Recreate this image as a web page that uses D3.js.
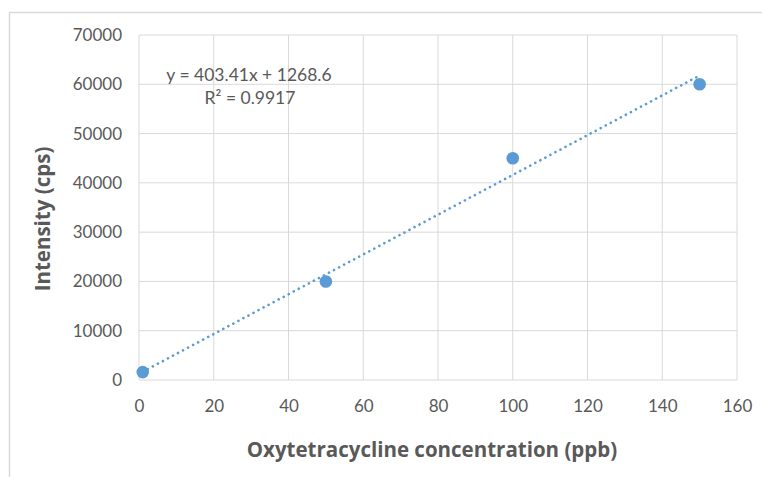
<!DOCTYPE html>
<html><head><meta charset="utf-8">
<script src="https://cdn.jsdelivr.net/npm/d3@7"></script>
<style>body{margin:0;background:#fff;} svg{display:block;}</style>
</head><body>
<svg id="c" width="762" height="477"></svg>
<script>
const xValues = [1, 50, 100, 150];
const yValues = [1600, 20000, 45000, 60000];
const xTicks = [0, 20, 40, 60, 80, 100, 120, 140, 160];
const yTicks = [0, 10000, 20000, 30000, 40000, 50000, 60000, 70000];
const trendSlope = 403.41;
const trendIntercept = 1268.6;
const equationLines = ["y = 403.41x + 1268.6", "R² = 0.9917"];
const xTitle = "Oxytetracycline concentration (ppb)";
const yTitle = "Intensity (cps)";

const svg = d3.select("#c");
const W = 762, H = 477;
const m = {left: 139, top: 35, right: 737, bottom: 380};
const font = "Lato, 'Open Sans', sans-serif";
const titleFont = "'Open Sans', sans-serif";
const grid = "#d9d9d9", txt = "#595959", blue = "#5b9bd5";

// outer frame (top & left visible)
svg.append("path").attr("d", `M9.5,${H} L9.5,12.5 L${W},12.5`)
  .attr("fill", "none").attr("stroke", grid).attr("stroke-width", 1.5);

const x = d3.scaleLinear().domain([0, 160]).range([m.left, m.right]);
const y = d3.scaleLinear().domain([0, 70000]).range([m.bottom, m.top]);

// gridlines
const g = svg.append("g");
g.selectAll(".vx").data(xTicks).join("line")
  .attr("x1", d => x(d)).attr("x2", d => x(d)).attr("y1", m.top).attr("y2", m.bottom)
  .attr("stroke", grid).attr("stroke-width", 1);
g.selectAll(".hy").data(yTicks).join("line")
  .attr("x1", m.left).attr("x2", m.right).attr("y1", d => y(d)).attr("y2", d => y(d))
  .attr("stroke", grid).attr("stroke-width", 1);

// axes labels via d3 axes
const xAxis = svg.append("g").attr("transform", `translate(0,${m.bottom})`)
  .call(d3.axisBottom(x).tickValues(xTicks).tickSize(0).tickPadding(20));
xAxis.select(".domain").remove();
xAxis.selectAll("text").attr("font-family", font).attr("font-size", 17).attr("fill", txt);

const yAxis = svg.append("g").attr("transform", `translate(${m.left},0)`)
  .call(d3.axisLeft(y).tickValues(yTicks).tickSize(0).tickPadding(17).tickFormat(d3.format("d")));
yAxis.select(".domain").remove();
yAxis.selectAll("text").attr("font-family", font).attr("font-size", 17).attr("fill", txt);

// trendline
svg.append("line")
  .attr("x1", x(d3.min(xValues))).attr("y1", y(trendSlope * d3.min(xValues) + trendIntercept))
  .attr("x2", x(d3.max(xValues))).attr("y2", y(trendSlope * d3.max(xValues) + trendIntercept))
  .attr("stroke", blue).attr("stroke-width", 2.6).attr("stroke-linecap", "round")
  .attr("stroke-dasharray", "0.1 5.6");

// points
svg.selectAll(".pt").data(xValues).join("circle")
  .attr("cx", d => x(d)).attr("cy", (d, i) => y(yValues[i])).attr("r", 6.3)
  .attr("fill", blue);

// equation
svg.append("text").attr("x", 249).attr("y", 81).attr("text-anchor", "middle")
  .attr("font-family", font).attr("font-size", 17.5).attr("fill", txt).text(equationLines[0]);
svg.append("text").attr("x", 250).attr("y", 104).attr("text-anchor", "middle")
  .attr("font-family", font).attr("font-size", 17.5).attr("fill", txt).text(equationLines[1]);

// titles
svg.append("text").attr("x", 432).attr("y", 457).attr("text-anchor", "middle")
  .attr("font-family", titleFont).attr("font-weight", "bold").attr("font-size", 20.5)
  .attr("fill", txt).text(xTitle);
svg.append("text").attr("transform", "translate(50,219) rotate(-90)").attr("text-anchor", "middle")
  .attr("font-family", titleFont).attr("font-weight", "bold").attr("font-size", 20.5)
  .attr("fill", txt).text(yTitle);
</script>
</body></html>
